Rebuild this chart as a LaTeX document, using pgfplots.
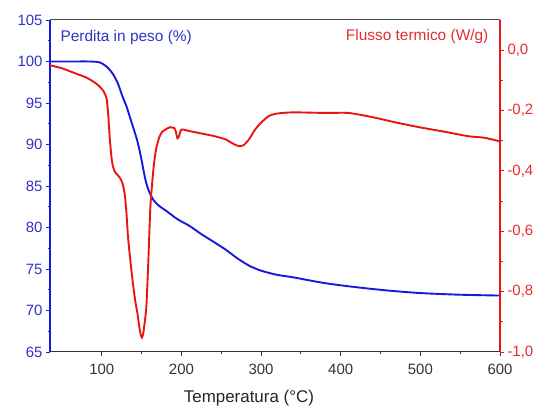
\documentclass[border=0pt]{standalone}
\usepackage{pgfplots}
\pgfplotsset{compat=1.18}
\usepackage{fontspec}
\setmainfont{Liberation Sans}
\usetikzlibrary{calc}
\definecolor{cblue}{RGB}{25,25,220}
\definecolor{cred}{RGB}{235,20,20}
\definecolor{tblue}{RGB}{50,50,200}
\definecolor{tred}{RGB}{230,45,45}
\begin{document}
\begin{tikzpicture}
\pgfplotsset{
 common/.style={
  scale only axis, width=450bp, height=332bp,
  xmin=35, xmax=600,
  tick align=outside, major tick length=4bp, minor tick length=2.5bp,
  /pgf/number format/assume math mode=true,
  tick label style={font=\fontsize{15}{18}\selectfont},
 }
}
\begin{axis}[common, name=a,
  axis x line*=bottom, axis y line*=left,
  ymin=65, ymax=105, ytick={65,70,...,105}, minor y tick num=1,
  xtick={100,200,...,600}, minor x tick num=1,
  y axis line style={cblue, line width=1.2bp},
  x axis line style={black!80, line width=1bp},
  ytick style={cblue, line width=0.8bp}, yticklabel style={text=tblue},
  xtick style={black!80, line width=0.8bp}, xticklabel style={text=black!80, yshift=-5bp},
  xlabel={Temperatura (°C)},
  xlabel style={at={(axis description cs:0.442,0)}, anchor=center, yshift=-46bp, font=\fontsize{17}{20}\selectfont, text=black!85},
 ]
\addplot[cblue, line width=1.9bp, smooth] coordinates {
(35,100.0) (60,100.0) (85,100.0) (97,99.9) (103,99.6) (108,99.2) (114,98.5)
(120,97.4) (126,95.8) (131,94.6) (135,93.4) (140,91.9) (145,90.3) (149,88.6)
(153,86.6) (156,85.3) (160,84.2) (165,83.3) (172,82.6) (181,82.0) (195,81.0)
(210,80.2) (225,79.2) (240,78.3) (256,77.3) (270,76.3) (285,75.4) (300,74.8)
(320,74.3) (340,74.0) (380,73.3) (420,72.8) (460,72.4) (500,72.1) (550,71.9) (600,71.8)
};
\node[anchor=west, text=tblue, font=\fontsize{15.5}{18}\selectfont] at (rel axis cs:0.0156,0.946) {Perdita in peso (\%)};
\end{axis}
\begin{axis}[common,
  axis y line*=right, axis x line=none,
  ymin=-1, ymax=0.1, ytick={-1,-0.8,-0.6,-0.4,-0.2,0}, minor y tick num=1,
  y axis line style={cred, line width=1.2bp},
  ytick style={cred, line width=0.8bp},
  yticklabel style={text=tred, /pgf/number format/.cd, fixed, fixed zerofill, precision=1, use comma},
 ]
\addplot[cred, line width=1.9bp, smooth, tension=0.35] coordinates {
(35,-0.05) (50,-0.06) (65,-0.075) (80,-0.09) (90,-0.105) (97,-0.12) (102,-0.135)
(106,-0.16) (108,-0.21) (110,-0.29) (112,-0.35) (114,-0.385) (117,-0.405) (122,-0.42)
(126,-0.44) (129,-0.48) (131,-0.54) (133,-0.62) (136,-0.70) (139,-0.77) (142,-0.83)
(145,-0.875) (147,-0.915) (149,-0.943) (150.5,-0.952) (152,-0.94) (154,-0.90) (156,-0.85) (158,-0.73)
(159,-0.66) (161,-0.52) (163,-0.45) (165,-0.39) (168,-0.33) (172,-0.29) (176,-0.27)
(185,-0.256) (191,-0.258) (193,-0.27) (195,-0.292) (197,-0.285) (200,-0.263) (210,-0.268)
(225,-0.276) (240,-0.284) (255,-0.295) (265,-0.31) (272,-0.318) (278,-0.315) (285,-0.295)
(292,-0.265) (300,-0.24) (310,-0.218) (320,-0.21) (340,-0.206) (380,-0.208) (410,-0.208)
(440,-0.222) (470,-0.24) (500,-0.256) (530,-0.27) (560,-0.285) (580,-0.29) (600,-0.302)
};
\node[anchor=east, text=tred, font=\fontsize{15.5}{18}\selectfont] at (rel axis cs:0.982,0.949) {Flusso termico (W/g)};
\end{axis}
\draw[black!70, line width=1bp] (a.north west) -- (a.north east);
\pgfresetboundingbox
\path[use as bounding box] ($(a.south west)+(-50bp,-57bp)$) rectangle ($(a.north east)+(41bp,20bp)$);
\end{tikzpicture}
\end{document}
